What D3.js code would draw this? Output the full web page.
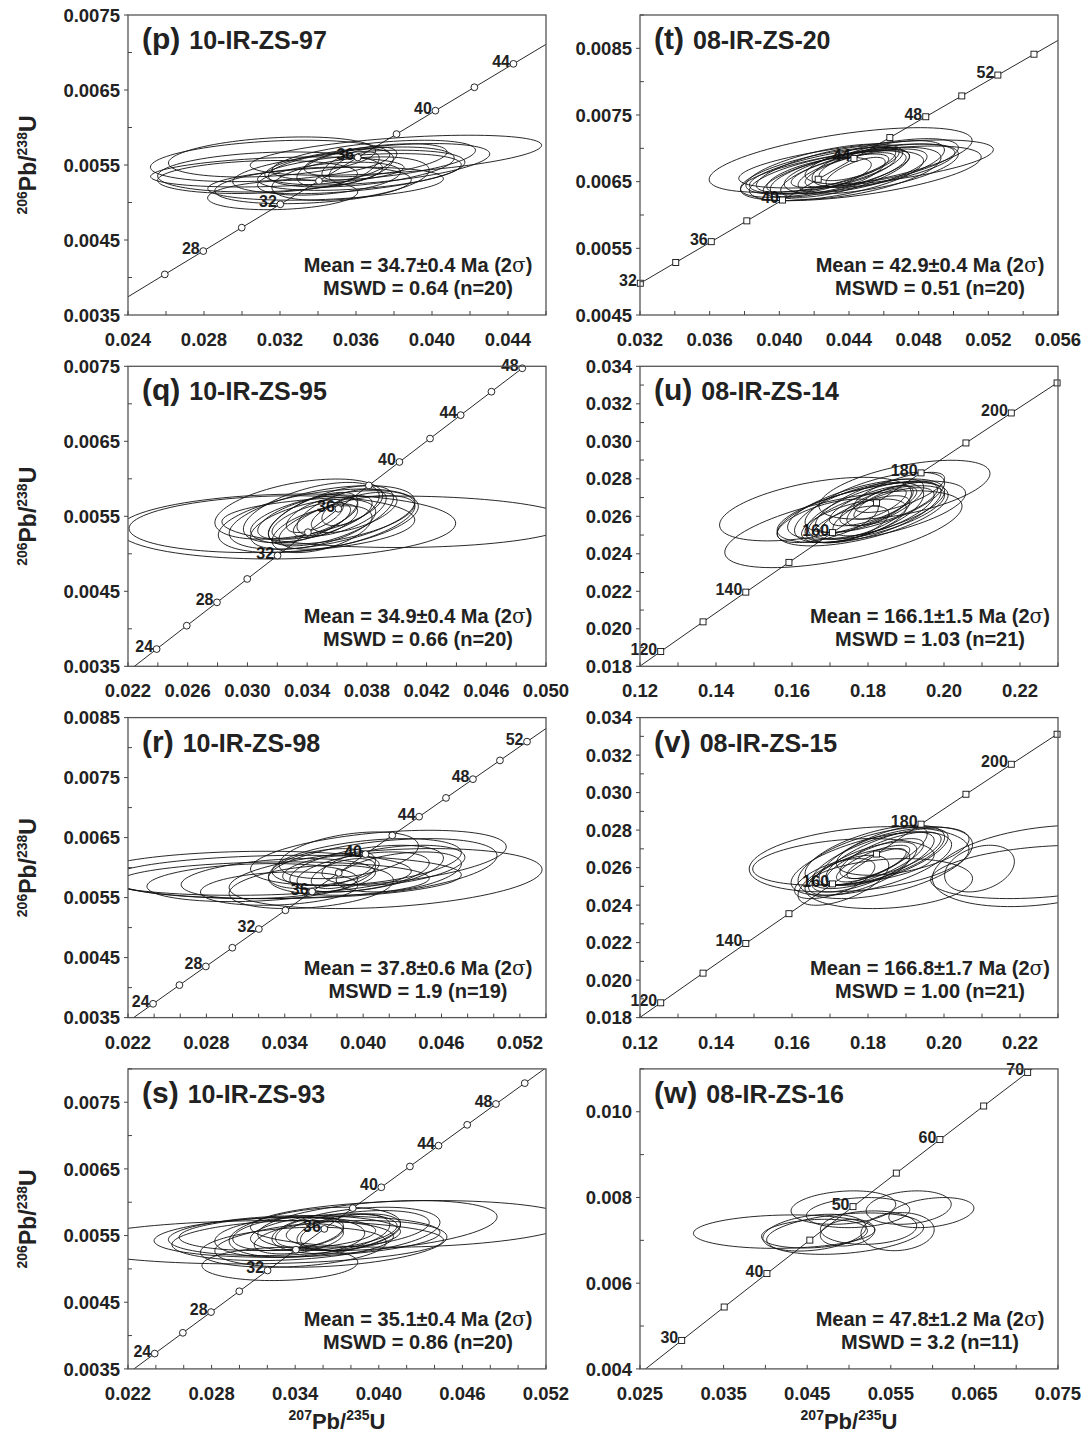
<!DOCTYPE html>
<html>
<head>
<meta charset="utf-8">
<script src="https://cdn.jsdelivr.net/npm/d3@7"></script>
<style>
  body { margin: 0; background: #fff; }
  svg { display: block; font-family: "Liberation Sans", Arial, Helvetica, sans-serif; }
</style>
</head>
<body>
<svg id="fig" width="1087" height="1434"></svg>
<script>
// ---------- Concordia reference points (age Ma, 207Pb/235U, 206Pb/238U) ----------
const youngAges = [20, 22, 24, 26, 28, 30, 32, 34, 36, 38, 40, 42, 44, 46, 48, 50, 52, 54, 56, 58];
const youngR207 = [0.019892, 0.021903, 0.023918, 0.025937, 0.027960, 0.029986, 0.032017, 0.034052, 0.036091, 0.038133,
                   0.040180, 0.042231, 0.044286, 0.046345, 0.048408, 0.050475, 0.052546, 0.054621, 0.056701, 0.058804];
const youngR206 = [0.0031073, 0.0034186, 0.0037299, 0.0040414, 0.0043524, 0.0046646, 0.0049763, 0.0052882, 0.0056001, 0.0059121,
                   0.0062243, 0.0065365, 0.0068488, 0.0071612, 0.0074737, 0.0077863, 0.0080990, 0.0084118, 0.0087247, 0.0090377];

const eoceneAges = [20, 25, 30, 35, 40, 45, 50, 55, 60, 65, 70, 75];
const eoceneR207 = [0.019892, 0.024927, 0.029986, 0.035071, 0.040180, 0.045315, 0.050475, 0.055660, 0.060871, 0.066109, 0.071371, 0.076660];
const eoceneR206 = [0.0031073, 0.0038857, 0.0046646, 0.0054441, 0.0062243, 0.0070050, 0.0077863, 0.0085683, 0.0093508, 0.0101341, 0.0109179, 0.0117023];

const jurassicAges = [110, 120, 130, 140, 150, 160, 170, 180, 190, 200, 210, 220];
const jurassicR207 = [0.114419, 0.125449, 0.136588, 0.147839, 0.159197, 0.170670, 0.182257, 0.193957, 0.205774, 0.217708, 0.229759, 0.242030];
const jurassicR206 = [0.017210, 0.018789, 0.020371, 0.021955, 0.023542, 0.025131, 0.026722, 0.028316, 0.029912, 0.031511, 0.033113, 0.034717];

// ---------- Error ellipses: [207/235, 206/238, ±207/235, ±206/238, rho] ----------
const pEllipses = [
  [0.03148, 0.005554, 0.00630, 0.000276, 0.3], [0.03186, 0.005407, 0.00667, 0.000200, 0.3],
  [0.03148, 0.005407, 0.00592, 0.000267, 0.2], [0.03440, 0.005251, 0.00620, 0.000220, 0.3],
  [0.03214, 0.005100, 0.00395, 0.000196, 0.2], [0.03810, 0.005630, 0.00767, 0.000267, 0.5],
  [0.03693, 0.005563, 0.00536, 0.000267, 0.5], [0.03712, 0.005510, 0.00592, 0.000276, 0.5],
  [0.03618, 0.005407, 0.00536, 0.000245, 0.4], [0.03628, 0.005473, 0.00489, 0.000267, 0.45],
  [0.03458, 0.005318, 0.00376, 0.000220, 0.4], [0.03590, 0.005473, 0.00132, 0.000200, 0.6],
  [0.03618, 0.005518, 0.00197, 0.000220, 0.6], [0.03543, 0.005460, 0.00254, 0.000254, 0.5],
  [0.03158, 0.005607, 0.00545, 0.000267, 0.3], [0.03082, 0.005340, 0.00526, 0.000220, 0.2],
  [0.03571, 0.005318, 0.00414, 0.000290, 0.4], [0.03562, 0.005407, 0.00611, 0.000290, 0.45],
  [0.03703, 0.005563, 0.00376, 0.000220, 0.5], [0.03374, 0.005229, 0.00517, 0.000245, 0.3]
];
const tEllipses = [
  [0.04352, 0.006825, 0.00755, 0.000485, 0.6], [0.04498, 0.006765, 0.00731, 0.000360, 0.6],
  [0.04468, 0.006625, 0.00691, 0.000410, 0.6], [0.04262, 0.006640, 0.00485, 0.000375, 0.65],
  [0.04258, 0.006690, 0.00450, 0.000375, 0.65], [0.04328, 0.006590, 0.00500, 0.000375, 0.6],
  [0.04268, 0.006690, 0.00400, 0.000350, 0.7], [0.04318, 0.006615, 0.00410, 0.000350, 0.7],
  [0.04438, 0.006625, 0.00490, 0.000390, 0.6], [0.04528, 0.006690, 0.00500, 0.000375, 0.6],
  [0.04348, 0.006665, 0.00280, 0.000250, 0.7], [0.04408, 0.006675, 0.00260, 0.000260, 0.7],
  [0.04458, 0.006765, 0.00230, 0.000250, 0.7], [0.04438, 0.006640, 0.00170, 0.000225, 0.7],
  [0.04378, 0.006625, 0.00370, 0.000360, 0.7], [0.04478, 0.006665, 0.00370, 0.000325, 0.65],
  [0.04418, 0.006690, 0.00590, 0.000375, 0.65], [0.04588, 0.006805, 0.00440, 0.000340, 0.6],
  [0.04228, 0.006590, 0.00300, 0.000275, 0.6], [0.04568, 0.006765, 0.00380, 0.000350, 0.6]
];
const qEllipses = [
  [0.03265, 0.005364, 0.01130, 0.000433, 0.1], [0.03164, 0.005395, 0.00957, 0.000379, 0.15],
  [0.04002, 0.005427, 0.01173, 0.000343, 0.0], [0.03344, 0.005596, 0.00562, 0.000401, 0.45],
  [0.03500, 0.005485, 0.00622, 0.000424, 0.5], [0.03428, 0.005551, 0.00455, 0.000401, 0.55],
  [0.03404, 0.005485, 0.00335, 0.000290, 0.6], [0.03440, 0.005485, 0.00299, 0.000334, 0.65],
  [0.03428, 0.005440, 0.00263, 0.000245, 0.6], [0.03452, 0.005507, 0.00191, 0.000223, 0.6],
  [0.03559, 0.005507, 0.00419, 0.000401, 0.6], [0.03667, 0.005418, 0.00455, 0.000357, 0.6],
  [0.03631, 0.005551, 0.00299, 0.000312, 0.6], [0.03440, 0.005395, 0.00419, 0.000334, 0.5],
  [0.03715, 0.005551, 0.00287, 0.000268, 0.6], [0.03475, 0.005440, 0.00670, 0.000424, 0.45],
  [0.03667, 0.005574, 0.00168, 0.000200, 0.5], [0.03500, 0.005328, 0.00335, 0.000312, 0.5],
  [0.03523, 0.005440, 0.00215, 0.000223, 0.6], [0.03571, 0.005485, 0.00550, 0.000357, 0.5]
];
const uEllipses = [
  [0.16619, 0.026384, 0.02525, 0.001695, 0.5], [0.17353, 0.025313, 0.03122, 0.002051, 0.6],
  [0.18960, 0.027418, 0.02250, 0.001570, 0.55], [0.18088, 0.026241, 0.02479, 0.001641, 0.6],
  [0.17858, 0.026116, 0.02250, 0.001695, 0.6], [0.17950, 0.026384, 0.02066, 0.001605, 0.6],
  [0.18180, 0.026740, 0.01836, 0.001605, 0.65], [0.18134, 0.026241, 0.01790, 0.001641, 0.65],
  [0.18042, 0.026562, 0.01423, 0.001427, 0.7], [0.18134, 0.026562, 0.01148, 0.001070, 0.7],
  [0.18226, 0.026205, 0.01790, 0.001427, 0.65], [0.18317, 0.026562, 0.00872, 0.001070, 0.7],
  [0.18317, 0.026651, 0.00689, 0.000803, 0.75], [0.17904, 0.025937, 0.01194, 0.001160, 0.7],
  [0.18409, 0.026241, 0.01331, 0.001284, 0.7], [0.17537, 0.025562, 0.01010, 0.000981, 0.6],
  [0.17629, 0.025760, 0.01377, 0.001160, 0.6], [0.18547, 0.026651, 0.01285, 0.001160, 0.7],
  [0.16940, 0.025760, 0.01331, 0.001160, 0.6], [0.17766, 0.026205, 0.01699, 0.001605, 0.6],
  [0.18822, 0.027275, 0.01194, 0.001070, 0.7]
];
const rEllipses = [
  [0.03138, 0.005905, 0.01231, 0.000367, 0.1], [0.03398, 0.005844, 0.01354, 0.000361, 0.1],
  [0.03316, 0.005789, 0.01190, 0.000306, 0.1], [0.04172, 0.005817, 0.01198, 0.000500, 0.3],
  [0.04117, 0.006161, 0.00979, 0.000461, 0.4], [0.04150, 0.006011, 0.00875, 0.000472, 0.4],
  [0.03152, 0.005750, 0.00807, 0.000317, 0.2], [0.03351, 0.005817, 0.00744, 0.000333, 0.3],
  [0.03603, 0.005678, 0.00629, 0.000361, 0.3], [0.03685, 0.005983, 0.00410, 0.000333, 0.4],
  [0.03753, 0.005955, 0.00369, 0.000250, 0.4], [0.04027, 0.006094, 0.00725, 0.000389, 0.4],
  [0.04027, 0.005983, 0.00588, 0.000389, 0.45], [0.04000, 0.005928, 0.00506, 0.000333, 0.45],
  [0.03849, 0.005900, 0.00246, 0.000250, 0.5], [0.03890, 0.006205, 0.00533, 0.000389, 0.4],
  [0.04232, 0.006039, 0.00547, 0.000333, 0.4], [0.04273, 0.005928, 0.00479, 0.000333, 0.4],
  [0.03357, 0.005650, 0.00602, 0.000278, 0.2]
];
const vEllipses = [
  [0.17766, 0.026444, 0.02892, 0.001742, 0.3], [0.17353, 0.026302, 0.02387, 0.001244, 0.3],
  [0.22605, 0.026089, 0.02911, 0.002169, 0.3], [0.20934, 0.025947, 0.00918, 0.001244, 0.3],
  [0.18455, 0.026267, 0.02296, 0.001920, 0.5], [0.18180, 0.026658, 0.01836, 0.001600, 0.6],
  [0.18088, 0.026213, 0.02112, 0.001689, 0.6], [0.18134, 0.026391, 0.01607, 0.001511, 0.7],
  [0.18134, 0.026622, 0.01423, 0.001564, 0.75], [0.18180, 0.026302, 0.01285, 0.001244, 0.75],
  [0.18134, 0.026213, 0.00964, 0.000978, 0.75], [0.18226, 0.026213, 0.00780, 0.000800, 0.75],
  [0.17353, 0.025324, 0.01194, 0.001333, 0.6], [0.18547, 0.025147, 0.02204, 0.001333, 0.2],
  [0.17124, 0.025413, 0.01056, 0.001067, 0.6], [0.17904, 0.026036, 0.01377, 0.001333, 0.7],
  [0.18593, 0.026658, 0.01331, 0.001244, 0.7], [0.22587, 0.025769, 0.02938, 0.001422, 0.3],
  [0.18501, 0.026569, 0.01607, 0.001511, 0.7], [0.17766, 0.025769, 0.01331, 0.001244, 0.65],
  [0.18914, 0.026871, 0.01745, 0.001280, 0.5]
];
const sEllipses = [
  [0.03131, 0.005400, 0.01333, 0.000325, 0.1], [0.04233, 0.005675, 0.01154, 0.000350, 0.15],
  [0.03413, 0.005485, 0.01026, 0.000310, 0.2], [0.03290, 0.005075, 0.00559, 0.000250, 0.1],
  [0.03323, 0.005500, 0.00833, 0.000300, 0.2], [0.03310, 0.005425, 0.00795, 0.000300, 0.2],
  [0.03272, 0.005525, 0.00705, 0.000250, 0.2], [0.03656, 0.005375, 0.00833, 0.000350, 0.3],
  [0.03541, 0.005550, 0.00615, 0.000375, 0.35], [0.03605, 0.005550, 0.00526, 0.000275, 0.35],
  [0.03349, 0.005525, 0.00397, 0.000250, 0.3], [0.03426, 0.005450, 0.00320, 0.000225, 0.4],
  [0.03503, 0.005550, 0.00244, 0.000225, 0.4], [0.03746, 0.005550, 0.00333, 0.000275, 0.4],
  [0.03990, 0.005650, 0.00859, 0.000375, 0.35], [0.03836, 0.005575, 0.00603, 0.000350, 0.35],
  [0.03849, 0.005600, 0.00513, 0.000275, 0.35], [0.03797, 0.005550, 0.00359, 0.000275, 0.4],
  [0.03387, 0.005325, 0.00667, 0.000300, 0.25], [0.03361, 0.005475, 0.00538, 0.000300, 0.2]
];
const wEllipses = [
  [0.04224, 0.0072025, 0.01085, 0.000390, 0.1], [0.04587, 0.0071560, 0.00634, 0.000335, 0.2],
  [0.04587, 0.0071790, 0.00618, 0.000429, 0.3], [0.04954, 0.0071560, 0.00939, 0.000483, 0.3],
  [0.04933, 0.0077640, 0.00626, 0.000390, 0.2], [0.05109, 0.0076470, 0.00618, 0.000351, 0.2],
  [0.05234, 0.0072960, 0.00576, 0.000390, 0.1], [0.04983, 0.0071790, 0.00326, 0.000312, 0.2],
  [0.05581, 0.0072025, 0.00438, 0.000444, 0.1], [0.05714, 0.0077640, 0.00509, 0.000390, 0.2],
  [0.05985, 0.0076470, 0.00509, 0.000351, 0.3]
];

// ---------- Text per panel ----------
const panelLetters = ["(p)", "(t)", "(q)", "(u)", "(r)", "(v)", "(s)", "(w)"];
const sampleNames  = ["10-IR-ZS-97", "08-IR-ZS-20", "10-IR-ZS-95", "08-IR-ZS-14",
                      "10-IR-ZS-98", "08-IR-ZS-15", "10-IR-ZS-93", "08-IR-ZS-16"];
const meanAges     = ["34.7±0.4", "42.9±0.4", "34.9±0.4", "166.1±1.5", "37.8±0.6", "166.8±1.7", "35.1±0.4", "47.8±1.2"];
const mswdTexts    = ["0.64 (n=20)", "0.51 (n=20)", "0.66 (n=20)", "1.03 (n=21)", "1.9 (n=19)", "1.00 (n=21)", "0.86 (n=20)", "3.2 (n=11)"];

// ---------- Axis tick labels ----------
const pXTicks = ["0.024", "0.028", "0.032", "0.036", "0.040", "0.044"];
const qXTicks = ["0.022", "0.026", "0.030", "0.034", "0.038", "0.042", "0.046", "0.050"];
const rsXTicks = ["0.022", "0.028", "0.034", "0.040", "0.046", "0.052"];
const tXTicks = ["0.032", "0.036", "0.040", "0.044", "0.048", "0.052", "0.056"];
const uvXTicks = ["0.12", "0.14", "0.16", "0.18", "0.20", "0.22"];
const wXTicks = ["0.025", "0.035", "0.045", "0.055", "0.065", "0.075"];
const youngYTicks = ["0.0035", "0.0045", "0.0055", "0.0065", "0.0075"];
const rYTicks = ["0.0035", "0.0045", "0.0055", "0.0065", "0.0075", "0.0085"];
const tYTicks = ["0.0045", "0.0055", "0.0065", "0.0075", "0.0085"];
const uvYTicks = ["0.018", "0.020", "0.022", "0.024", "0.026", "0.028", "0.030", "0.032", "0.034"];
const wYTicks = ["0.004", "0.006", "0.008", "0.010"];

const youngLabelAges = [24, 28, 32, 36, 40, 44, 48, 52];
const jurassicLabelAges = [120, 140, 160, 180, 200];
const eoceneLabelAges = [30, 40, 50, 60, 70];

const curves = {
  young: { ages: youngAges, r207: youngR207, r206: youngR206 },
  eocene: { ages: eoceneAges, r207: eoceneR207, r206: eoceneR206 },
  jurassic: { ages: jurassicAges, r207: jurassicR207, r206: jurassicR206 }
};

const panels = [
  { col: 0, row: 0, xDom: [0.024, 0.046], yDom: [0.0035, 0.0075], xTicks: pXTicks, xMinor: 0.002, yTicks: youngYTicks, yMinor: 0.0005, curve: "young", shape: "circle", labels: youngLabelAges, ell: pEllipses },
  { col: 1, row: 0, xDom: [0.032, 0.056], yDom: [0.0045, 0.0090], xTicks: tXTicks, xMinor: 0.002, yTicks: tYTicks, yMinor: 0.0005, curve: "young", shape: "square", labels: youngLabelAges, ell: tEllipses },
  { col: 0, row: 1, xDom: [0.022, 0.050], yDom: [0.0035, 0.0075], xTicks: qXTicks, xMinor: 0.002, yTicks: youngYTicks, yMinor: 0.0005, curve: "young", shape: "circle", labels: youngLabelAges, ell: qEllipses },
  { col: 1, row: 1, xDom: [0.12, 0.23], yDom: [0.018, 0.034], xTicks: uvXTicks, xMinor: 0.01, yTicks: uvYTicks, yMinor: 0.001, curve: "jurassic", shape: "square", labels: jurassicLabelAges, ell: uEllipses },
  { col: 0, row: 2, xDom: [0.022, 0.054], yDom: [0.0035, 0.0085], xTicks: rsXTicks, xMinor: 0.002, yTicks: rYTicks, yMinor: 0.0005, curve: "young", shape: "circle", labels: youngLabelAges, ell: rEllipses },
  { col: 1, row: 2, xDom: [0.12, 0.23], yDom: [0.018, 0.034], xTicks: uvXTicks, xMinor: 0.01, yTicks: uvYTicks, yMinor: 0.001, curve: "jurassic", shape: "square", labels: jurassicLabelAges, ell: vEllipses },
  { col: 0, row: 3, xDom: [0.022, 0.052], yDom: [0.0035, 0.0080], xTicks: rsXTicks, xMinor: 0.002, yTicks: youngYTicks, yMinor: 0.0005, curve: "young", shape: "circle", labels: youngLabelAges, ell: sEllipses },
  { col: 1, row: 3, xDom: [0.025, 0.075], yDom: [0.004, 0.011], xTicks: wXTicks, xMinor: 0.005, yTicks: wYTicks, yMinor: 0.001, curve: "eocene", shape: "square", labels: eoceneLabelAges, ell: wEllipses }
];

// ---------- Layout ----------
const colX = [128, 640];
const rowY = [15, 366.3, 717.6, 1068.9];
const plotW = 418, plotH = 300;
const ink = "#111";

const svg = d3.select("#fig");

function stepTicks(dom, step) {
  const out = [];
  const i0 = Math.ceil(dom[0] / step - 1e-6), i1 = Math.floor(dom[1] / step + 1e-6);
  for (let i = i0; i <= i1; i++) out.push(+(i * step).toFixed(6));
  return out;
}

function ellipsePoints(e) {
  const [cx, cy, ex, ey, rho] = e;
  const k = Math.sqrt(1 - rho * rho);
  return d3.range(0, 97).map(i => {
    const a = (i / 96) * 2 * Math.PI;
    return [cx + ex * Math.cos(a), cy + ey * (rho * Math.cos(a) + k * Math.sin(a))];
  });
}

panels.forEach((P, idx) => {
  const x0 = colX[P.col], y0 = rowY[P.row];
  const x = d3.scaleLinear().domain(P.xDom).range([0, plotW]);
  const y = d3.scaleLinear().domain(P.yDom).range([plotH, 0]);
  const g = svg.append("g").attr("transform", `translate(${x0},${y0})`);

  const clipId = "clip" + idx;
  g.append("clipPath").attr("id", clipId)
    .append("rect").attr("width", plotW).attr("height", plotH);

  const c = curves[P.curve];
  const pts = c.ages.map((a, i) => ({ age: a, x: c.r207[i], y: c.r206[i] }));
  const inside = d => d.x >= P.xDom[0] - 1e-9 && d.x <= P.xDom[1] + 1e-9 && d.y >= P.yDom[0] - 1e-9 && d.y <= P.yDom[1] + 1e-9;

  // concordia curve
  g.append("path")
    .attr("clip-path", `url(#${clipId})`)
    .attr("d", d3.line().x(d => x(d.x)).y(d => y(d.y)).curve(d3.curveMonotoneX)(pts))
    .attr("fill", "none").attr("stroke", ink).attr("stroke-width", 0.9);

  // age labels
  g.selectAll("text.age").data(pts.filter(d => inside(d) && P.labels.includes(d.age)))
    .enter().append("text").attr("class", "age")
    .attr("x", d => x(d.x) - 3.5).attr("y", d => y(d.y) + 3)
    .attr("text-anchor", "end")
    .attr("font-size", 16).attr("font-weight", "bold").attr("fill", "#222")
    .text(d => d.age);

  // error ellipses
  const eLine = d3.line().x(d => x(d[0])).y(d => y(d[1]));
  g.append("g").attr("clip-path", `url(#${clipId})`)
    .selectAll("path").data(P.ell).enter().append("path")
    .attr("d", e => eLine(ellipsePoints(e)) + "Z")
    .attr("fill", "none").attr("stroke", ink).attr("stroke-width", 0.9);

  // age markers
  const mk = pts.filter(inside);
  if (P.shape === "circle") {
    g.selectAll("circle.mk").data(mk).enter().append("circle")
      .attr("cx", d => x(d.x)).attr("cy", d => y(d.y)).attr("r", 3.4)
      .attr("fill", "#fff").attr("stroke", ink).attr("stroke-width", 0.9);
  } else {
    g.selectAll("rect.mk").data(mk).enter().append("rect")
      .attr("x", d => x(d.x) - 3).attr("y", d => y(d.y) - 3).attr("width", 6).attr("height", 6)
      .attr("fill", "#fff").attr("stroke", ink).attr("stroke-width", 0.9);
  }

  // frame
  g.append("rect").attr("width", plotW).attr("height", plotH)
    .attr("fill", "none").attr("stroke", "#555").attr("stroke-width", 1.3);

  // x ticks (inward)
  stepTicks(P.xDom, P.xMinor).forEach(v => {
    g.append("line").attr("x1", x(v)).attr("x2", x(v)).attr("y1", plotH).attr("y2", plotH - 4)
      .attr("stroke", "#444").attr("stroke-width", 1);
  });
  P.xTicks.forEach(s => {
    g.append("text").attr("x", x(+s)).attr("y", plotH + 31)
      .attr("text-anchor", "middle").attr("font-size", 18.5).attr("font-weight", "bold").attr("fill", "#222")
      .text(s);
  });

  // y ticks: labelled ticks outward, intermediate ticks inward
  const yMaj = P.yTicks.map(Number);
  stepTicks(P.yDom, P.yMinor).forEach(v => {
    const isMaj = yMaj.some(m => Math.abs(m - v) < 1e-9);
    g.append("line").attr("x1", isMaj ? -4 : 0).attr("x2", isMaj ? 0 : 4)
      .attr("y1", y(v)).attr("y2", y(v)).attr("stroke", "#444").attr("stroke-width", 1);
  });
  P.yTicks.forEach(s => {
    g.append("text").attr("x", -8).attr("y", y(+s)).attr("dy", "0.36em")
      .attr("text-anchor", "end").attr("font-size", 18.5).attr("font-weight", "bold").attr("fill", "#222")
      .text(s);
  });

  // panel title
  const title = g.append("text").attr("x", 14).attr("y", 34).attr("font-weight", "bold").attr("fill", "#222");
  title.append("tspan").attr("font-size", 30).text(panelLetters[idx]);
  title.append("tspan").attr("font-size", 25).attr("dx", 9).text(sampleNames[idx]);

  // weighted mean summary
  const cxT = plotW - 128;
  const m1 = g.append("text").attr("x", cxT).attr("y", plotH - 43).attr("text-anchor", "middle")
    .attr("font-size", 20).attr("font-weight", "bold").attr("fill", "#222");
  m1.append("tspan").text(`Mean = ${meanAges[idx]} Ma (2`);
  m1.append("tspan").attr("font-family", "'DejaVu Serif', 'Liberation Serif', serif").attr("font-weight", "normal").text("σ");
  m1.append("tspan").text(")");
  g.append("text").attr("x", cxT).attr("y", plotH - 20).attr("text-anchor", "middle")
    .attr("font-size", 20).attr("font-weight", "bold").attr("fill", "#222")
    .text(`MSWD = ${mswdTexts[idx]}`);

  // axis titles
  if (P.col === 0) {
    const yl = g.append("text").attr("transform", `translate(-92,${plotH / 2}) rotate(-90)`)
      .attr("text-anchor", "middle").attr("font-weight", "bold").attr("fill", "#222");
    yl.append("tspan").attr("font-size", 14).attr("dy", -9).text("206");
    yl.append("tspan").attr("font-size", 23).attr("dy", 9).text("Pb/");
    yl.append("tspan").attr("font-size", 14).attr("dy", -9).text("238");
    yl.append("tspan").attr("font-size", 23).attr("dy", 9).text("U");
  }
  if (P.row === 3) {
    const xl = g.append("text").attr("x", plotW / 2).attr("y", plotH + 60)
      .attr("text-anchor", "middle").attr("font-weight", "bold").attr("fill", "#222");
    xl.append("tspan").attr("font-size", 14).attr("dy", -9).text("207");
    xl.append("tspan").attr("font-size", 22).attr("dy", 9).text("Pb/");
    xl.append("tspan").attr("font-size", 14).attr("dy", -9).text("235");
    xl.append("tspan").attr("font-size", 22).attr("dy", 9).text("U");
  }
});
</script>
</body>
</html>
